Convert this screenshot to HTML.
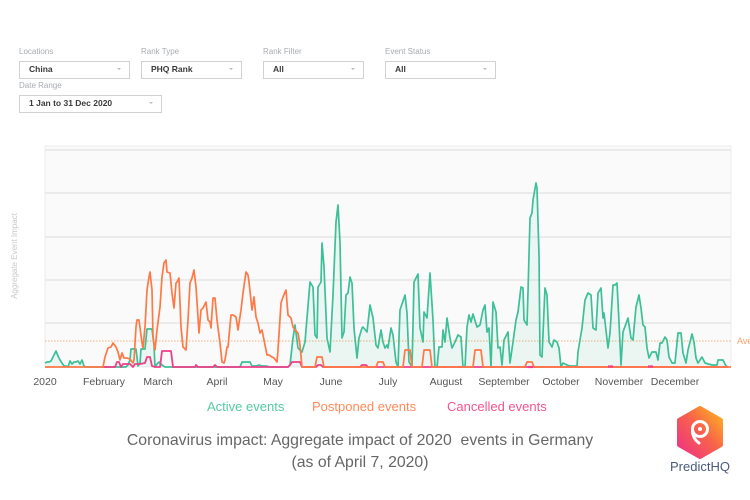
<!DOCTYPE html>
<html><head><meta charset="utf-8"><style>
html,body{margin:0;padding:0;background:#fff;}
body{width:750px;height:500px;overflow:hidden;position:relative;font-family:"Liberation Sans",sans-serif;}
.lbl{position:absolute;font-size:8px;color:#a8acb0;}
.box{position:absolute;height:16px;border:1px solid #cfd3d6;background:#fff;box-sizing:border-box;}
.box span{position:absolute;left:9px;top:2px;font-size:8.5px;font-weight:bold;color:#3a3a3a;}
.box i{position:absolute;right:8px;top:6px;width:0;height:0;border-left:2.5px solid transparent;border-right:2.5px solid transparent;border-top:2.5px solid #b8bcc0;}
svg{position:absolute;left:0;top:0;}
</style></head><body>
<div class="lbl" style="left:19px;top:47px;">Locations</div>
<div class="box" style="left:19px;top:61px;width:111px;height:18px;"><span>China</span><i></i></div>
<div class="lbl" style="left:141px;top:47px;">Rank Type</div>
<div class="box" style="left:141px;top:61px;width:101px;height:18px;"><span>PHQ Rank</span><i></i></div>
<div class="lbl" style="left:263px;top:47px;">Rank Filter</div>
<div class="box" style="left:263px;top:61px;width:101px;height:18px;"><span>All</span><i></i></div>
<div class="lbl" style="left:385px;top:47px;">Event Status</div>
<div class="box" style="left:385px;top:61px;width:111px;height:18px;"><span>All</span><i></i></div>
<div class="lbl" style="left:19px;top:81px;">Date Range</div>
<div class="box" style="left:19px;top:95px;width:143px;height:18px;"><span>1 Jan to 31 Dec 2020</span><i></i></div>

<svg width="750" height="500" viewBox="0 0 750 500" xmlns="http://www.w3.org/2000/svg">
<rect x="45" y="146" width="686" height="221" fill="#fafafa" stroke="#ececec" stroke-width="1"/>
<g stroke="#e6e6e6" stroke-width="1.5">
<line x1="45" y1="150" x2="731" y2="150"/>
<line x1="45" y1="193" x2="731" y2="193"/>
<line x1="45" y1="237" x2="731" y2="237"/>
<line x1="45" y1="280" x2="731" y2="280"/>
<line x1="45" y1="323" x2="731" y2="323"/>
</g>
<text x="17" y="256" transform="rotate(-90 17 256)" font-size="8" fill="#c5c9cd" text-anchor="middle" font-family="Liberation Sans, sans-serif">Aggregate Event Impact</text>
<line x1="45" y1="341" x2="731" y2="341" stroke="#f6b07c" stroke-width="1" stroke-dasharray="1.5,1.5"/>
<text x="737" y="344" font-size="9" fill="#f6a06a" font-family="Liberation Sans, sans-serif">Ave</text>

<polygon fill="rgba(64,190,150,0.08)" points="45,367 45,363 47,362 49,362 51,361 53,357 56,351 58,356 60,360 62,363 64,366 66,366 68,367 70,361 72,364 74,362 76,362 78,361 80,364 82,360 84,366 86,367 126,367 128,365 130,360 131,349 136,349 138,366 140,363 141,349 145,349 147,329 152,329 154,345 155,367 157,364 159,362 162,365 165,367 240,367 242,362 250,362 252,366 256,366 259,365 262,366 266,366 270,367 288,367 290,365 293,338 295,325 298,348 302,352 305,342 310,282 313,287 315,335 317,338 318,287 321,282 322,243 324,267 327,338 330,352 333,295 336,222 338,205 340,242 342,338 344,332 346,295 348,293 350,277 352,283 354,328 357,358 359,338 362,328 363,327 367,332 370,305 373,318 376,345 378,348 381,330 383,342 385,348 387,345 388,348 391,328 393,335 396,362 398,367 400,310 405,295 407,313 409,362 412,367 414,282 418,274 420,328 423,342 424,312 427,318 430,273 433,320 435,367 437,367 439,347 442,347 443,330 445,342 447,318 450,338 452,348 455,342 458,335 461,337 463,367 465,367 467,327 469,315 471,322 473,314 477,327 480,325 483,310 485,305 487,332 489,328 491,367 493,302 496,312 498,348 500,347 502,365 504,340 508,332 510,363 513,342 516,320 518,312 521,287 523,288 524,320 527,325 528,292 530,218 532,213 533,200 536,183 537,188 539,255 540,355 542,357 545,288 547,295 549,342 552,347 554,340 557,342 559,348 561,367 563,363 567,365 570,366 577,366 578,352 582,328 585,300 588,293 591,295 593,328 596,330 598,293 601,288 603,318 604,313 608,348 610,333 613,285 615,285 617,283 619,322 621,365 623,332 628,318 631,338 633,340 636,307 639,295 641,308 643,325 645,327 647,348 649,358 652,352 656,352 658,360 660,343 662,343 665,337 667,340 669,357 672,363 675,363 678,333 681,333 683,353 686,363 688,350 692,334 694,342 696,358 698,363 702,357 705,363 712,365 717,365 718,360 723,360 726,366 728,367"/>
<polyline fill="none" stroke="#3dbf97" stroke-width="1.7" stroke-linejoin="round" points="45,363 47,362 49,362 51,361 53,357 56,351 58,356 60,360 62,363 64,366 66,366 68,367 70,361 72,364 74,362 76,362 78,361 80,364 82,360 84,366 86,367 126,367 128,365 130,360 131,349 136,349 138,366 140,363 141,349 145,349 147,329 152,329 154,345 155,367 157,364 159,362 162,365 165,367 240,367 242,362 250,362 252,366 256,366 259,365 262,366 266,366 270,367 288,367 290,365 293,338 295,325 298,348 302,352 305,342 310,282 313,287 315,335 317,338 318,287 321,282 322,243 324,267 327,338 330,352 333,295 336,222 338,205 340,242 342,338 344,332 346,295 348,293 350,277 352,283 354,328 357,358 359,338 362,328 363,327 367,332 370,305 373,318 376,345 378,348 381,330 383,342 385,348 387,345 388,348 391,328 393,335 396,362 398,367 400,310 405,295 407,313 409,362 412,367 414,282 418,274 420,328 423,342 424,312 427,318 430,273 433,320 435,367 437,367 439,347 442,347 443,330 445,342 447,318 450,338 452,348 455,342 458,335 461,337 463,367 465,367 467,327 469,315 471,322 473,314 477,327 480,325 483,310 485,305 487,332 489,328 491,367 493,302 496,312 498,348 500,347 502,365 504,340 508,332 510,363 513,342 516,320 518,312 521,287 523,288 524,320 527,325 528,292 530,218 532,213 533,200 536,183 537,188 539,255 540,355 542,357 545,288 547,295 549,342 552,347 554,340 557,342 559,348 561,367 563,363 567,365 570,366 577,366 578,352 582,328 585,300 588,293 591,295 593,328 596,330 598,293 601,288 603,318 604,313 608,348 610,333 613,285 615,285 617,283 619,322 621,365 623,332 628,318 631,338 633,340 636,307 639,295 641,308 643,325 645,327 647,348 649,358 652,352 656,352 658,360 660,343 662,343 665,337 667,340 669,357 672,363 675,363 678,333 681,333 683,353 686,363 688,350 692,334 694,342 696,358 698,363 702,357 705,363 712,365 717,365 718,360 723,360 726,366 728,367"/>
<polyline fill="none" stroke="#ef3f88" stroke-width="1.8" stroke-linejoin="round" points="103,367 115,367 117,362 119,362 121,367 123,364 130,364 133,367 135,364 140,364 145,363 147,357 150,357 152,366 155,367 160,367 162,351 171,351 173,367 195,367 196,365 198,367 213,367 215,365 217,367 288,367 290,365 292,362 300,362 302,367 316,367 318,365 321,365 323,367 360,367 362,365 366,365 368,367 728,367"/>
<polyline fill="none" stroke="#ff7845" stroke-width="1.7" stroke-linejoin="round" points="45,367 103,367 105,357 108,348 111,347 113,343 116,347 118,352 120,360 122,353 124,358 127,358 130,359 133,363 134,360 136,327 137,320 139,320 142,343 143,348 145,327 147,290 149,277 150,272 152,290 153,337 155,350 157,330 160,307 162,277 164,263 166,260 167,272 170,273 172,293 174,308 176,283 177,282 179,278 181,327 183,347 186,350 188,320 190,283 192,278 194,270 196,287 198,317 199,333 201,310 203,308 206,302 208,320 210,322 211,328 213,298 215,298 217,320 220,343 222,362 224,363 225,360 227,347 228,347 231,315 233,315 236,317 238,330 241,310 243,293 246,272 248,275 249,282 252,310 254,297 256,317 258,323 260,333 262,330 264,340 267,355 269,355 272,357 274,358 277,362 278,350 281,303 283,297 286,290 288,315 291,318 293,327 295,330 298,333 300,345 302,367 315,367 317,357 322,357 324,367 376,367 378,362 383,362 385,367 403,367 405,350 410,350 412,367 422,367 424,350 430,350 432,367 473,367 475,350 481,350 483,367 525,367 527,362 532,362 534,367 731,367"/>
<g stroke="#ef3f88" stroke-width="2.2">
<line x1="528" y1="367" x2="533" y2="367"/>
<line x1="608" y1="366.5" x2="613" y2="366.5"/>
<line x1="648" y1="366.5" x2="653" y2="366.5"/>
</g>

<g font-size="10.5" fill="#555" text-anchor="middle" font-family="Liberation Sans, sans-serif">
<text x="45" y="385">2020</text>
<text x="104" y="385">February</text>
<text x="158" y="385">March</text>
<text x="217" y="385">April</text>
<text x="273" y="385">May</text>
<text x="331" y="385">June</text>
<text x="388" y="385">July</text>
<text x="446" y="385">August</text>
<text x="504" y="385">September</text>
<text x="561" y="385">October</text>
<text x="619" y="385">November</text>
<text x="675" y="385">December</text>
</g>

<g font-size="13" font-family="Liberation Sans, sans-serif">
<text x="207" y="411" fill="#55cba3">Active events</text>
<text x="312" y="411" fill="#ff8a5a">Postponed events</text>
<text x="447" y="411" fill="#f2558f">Cancelled events</text>
</g>
<g font-size="15.8" fill="#666" text-anchor="middle" font-family="Liberation Sans, sans-serif">
<text x="360" y="445" xml:space="preserve">Coronavirus impact: Aggregate impact of 2020  events in Germany</text>
<text x="360" y="467">(as of April 7, 2020)</text>
</g>

<defs>
<linearGradient id="lg" x1="0" y1="1" x2="1" y2="0">
<stop offset="0" stop-color="#ee2f86"/>
<stop offset="0.55" stop-color="#f8644a"/>
<stop offset="1" stop-color="#ffb71c"/>
</linearGradient>
</defs>
<polygon points="700,408 721,420 721,445 700,457 679,445 679,420" fill="url(#lg)" stroke="url(#lg)" stroke-width="4" stroke-linejoin="round"/>
<circle cx="700" cy="429" r="7.5" fill="none" stroke="#fff" stroke-width="3"/>
<path d="M692.5,429 Q692,438 699,443" fill="none" stroke="#fff" stroke-width="3" stroke-linecap="round"/>
<circle cx="700" cy="429" r="2" fill="#fff"/>
<text x="700" y="471" font-size="13" fill="#4a5a78" text-anchor="middle" font-family="Liberation Sans, sans-serif">PredictHQ</text>
</svg>
</body></html>
